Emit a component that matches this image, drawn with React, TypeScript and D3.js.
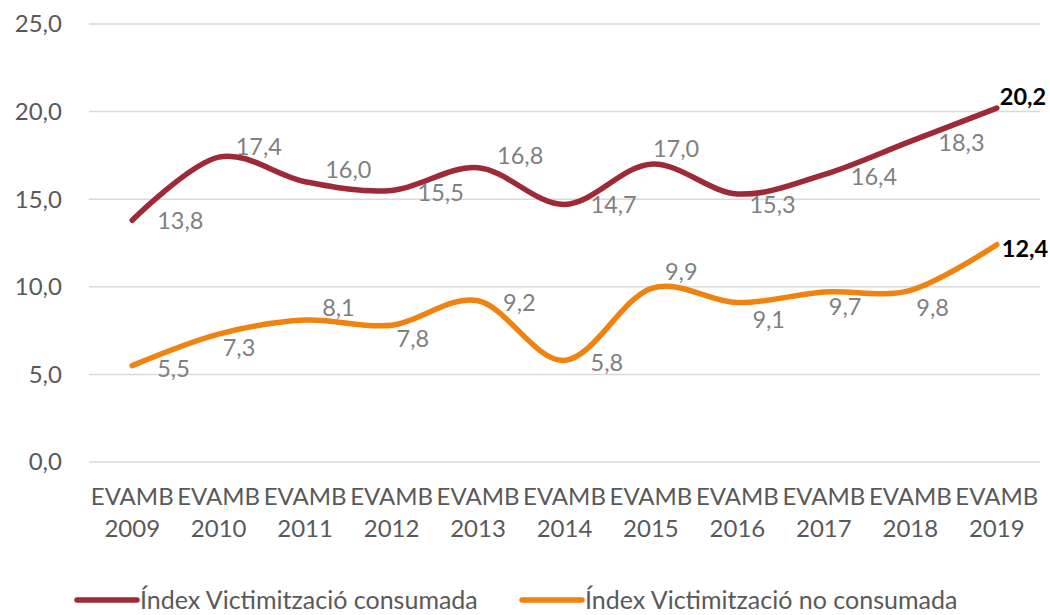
import React, { useRef, useEffect } from 'react';
import * as d3 from 'd3';

// chart values
const years = ['2009', '2010', '2011', '2012', '2013', '2014', '2015', '2016', '2017', '2018', '2019'];
const consumada = [13.8, 17.4, 16.0, 15.5, 16.8, 14.7, 17.0, 15.3, 16.4, 18.3, 20.2];
const noConsumada = [5.5, 7.3, 8.1, 7.8, 9.2, 5.8, 9.9, 9.1, 9.7, 9.8, 12.4];
const yTicks = [0, 5, 10, 15, 20, 25];
const seriesNames = ['Índex Victimització consumada', 'Índex Victimització no consumada'];

// hand placed label nudges (dx, dy from the point), like the original
const consumadaLabelNudge = [[25, 1], [17, -10], [20, -12], [26, 2], [19, -12], [26, 0], [2, -15], [12, 11], [27, 2], [28, 1], [3, -11]];
const noConsumadaLabelNudge = [[25, 3], [4, 14], [17, -12], [5, 13], [25, 2], [26, 2], [14, -17], [15, 17], [5, 15], [6, 17], [5, 4]];

const FONT = 'Lato, "Open Sans", sans-serif';

const App = () => {
  const svgRef = useRef<SVGSVGElement>(null);

  useEffect(() => {
    const svg = d3.select(svgRef.current);
    svg.selectAll('*').remove();

    const left = 89;
    const right = 1040;
    const top = 24;
    const bottom = 462;

    const x = d3.scaleBand().domain(years).range([left, right]);
    const y = d3.scaleLinear().domain([0, 25]).range([bottom, top]);
    const cx = (yr: string) => (x(yr) as number) + x.bandwidth() / 2;
    const fmt = (v: number) => v.toFixed(1).replace('.', ',');

    // gridlines
    svg.append('g')
      .selectAll('line')
      .data(yTicks)
      .enter()
      .append('line')
      .attr('x1', left)
      .attr('x2', right)
      .attr('y1', d => y(d))
      .attr('y2', d => y(d))
      .attr('stroke', '#d9d9d9')
      .attr('stroke-width', 1.5);

    // y tick labels
    svg.append('g')
      .selectAll('text')
      .data(yTicks)
      .enter()
      .append('text')
      .attr('x', 62)
      .attr('y', d => y(d))
      .attr('dy', '0.35em')
      .attr('text-anchor', 'end')
      .style('font-family', FONT)
      .style('font-size', '24px')
      .style('fill', '#595959')
      .text(d => fmt(d));

    // x labels (two lines)
    const xl = svg.append('g')
      .selectAll('text')
      .data(years)
      .enter()
      .append('text')
      .attr('text-anchor', 'middle')
      .style('font-family', FONT)
      .style('font-size', '24px')
      .style('fill', '#595959');
    xl.append('tspan').attr('x', d => cx(d)).attr('y', 505).text('EVAMB');
    xl.append('tspan').attr('x', d => cx(d)).attr('y', 537).text(d => d);

    const line = d3.line<number>()
      .x((d, i) => cx(years[i]))
      .y(d => y(d))
      .curve(d3.curveCardinal.tension(0));

    const series = [
      { values: consumada, color: '#9e2a38', nudge: consumadaLabelNudge },
      { values: noConsumada, color: '#f0820f', nudge: noConsumadaLabelNudge }
    ];

    series.forEach(s => {
      svg.append('path')
        .datum(s.values)
        .attr('d', line)
        .attr('fill', 'none')
        .attr('stroke', s.color)
        .attr('stroke-width', 5.5)
        .attr('stroke-linecap', 'round')
        .attr('stroke-linejoin', 'round');

      svg.append('g')
        .selectAll('text')
        .data(s.values)
        .enter()
        .append('text')
        .attr('x', (d, i) => cx(years[i]) + s.nudge[i][0])
        .attr('y', (d, i) => y(d) + s.nudge[i][1])
        .attr('dy', '0.35em')
        .style('font-family', FONT)
        .style('font-size', '23.5px')
        .style('font-weight', (d, i) => (i === s.values.length - 1 ? 'bold' : 'normal'))
        .style('fill', (d, i) => (i === s.values.length - 1 ? '#000000' : '#808080'))
        .text(d => fmt(d));
    });

    // legend
    const legendItems = [
      { label: seriesNames[0], color: '#9e2a38', x: 77 },
      { label: seriesNames[1], color: '#f0820f', x: 522 }
    ];
    const lg = svg.append('g')
      .selectAll('g')
      .data(legendItems)
      .enter()
      .append('g')
      .attr('transform', d => `translate(${d.x}, 600)`);
    lg.append('line')
      .attr('x1', 0)
      .attr('x2', 60)
      .attr('stroke', d => d.color)
      .attr('stroke-width', 5.5)
      .attr('stroke-linecap', 'round');
    lg.append('text')
      .attr('x', 63)
      .attr('dy', '0.35em')
      .style('font-family', FONT)
      .style('font-size', '25px')
      .style('fill', '#595959')
      .text(d => d.label);
  }, []);

  return (
    <svg
      ref={svgRef}
      width={1050}
      height={615}
      style={{ position: 'absolute', left: 0, top: 0, display: 'block', background: '#ffffff' }}
    />
  );
};

export default App;
